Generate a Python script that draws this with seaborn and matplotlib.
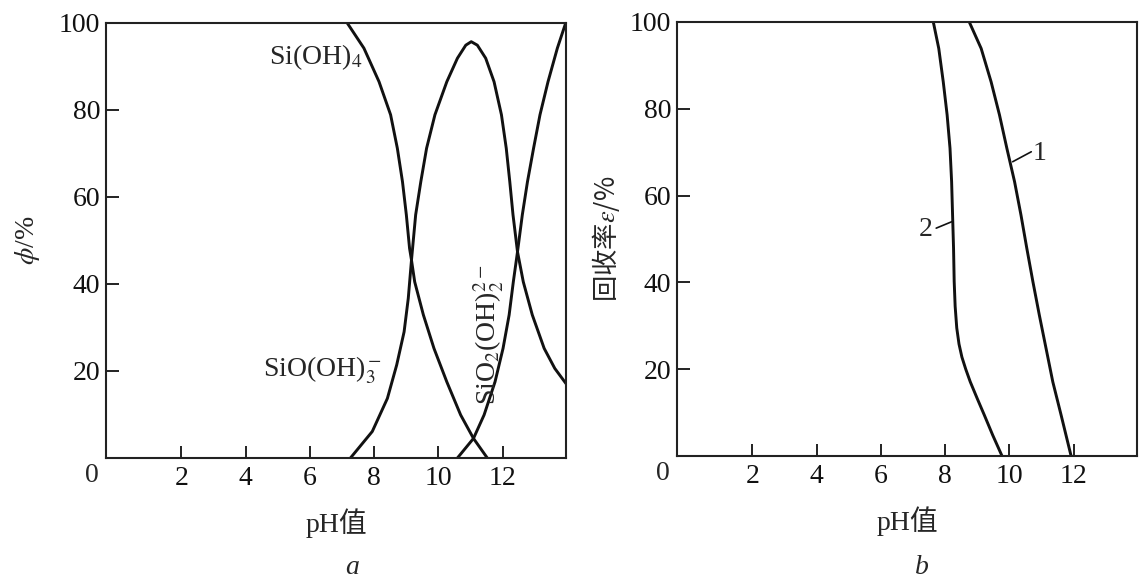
import matplotlib
matplotlib.use("Agg")
import matplotlib.pyplot as plt
import seaborn as sns

# --- panel a: species fraction vs pH ---
ph_sioh4 = [7.16, 7.68, 8.15, 8.51, 8.72, 8.88, 9.0, 9.10, 9.16, 9.26, 9.53, 9.86,
            10.26, 10.69, 11.09, 11.52]
phi_sioh4 = [100, 94.2, 86.5, 78.9, 71.2, 63.5, 55.9, 48.2, 45.5, 40.5, 32.9, 25.2,
             17.5, 9.9, 4.5, 0]

ph_sio_oh3 = [7.26, 7.94, 8.41, 8.70, 8.93, 9.06, 9.16, 9.29, 9.45, 9.63, 9.89, 10.26,
              10.59, 10.85, 11.02, 11.21, 11.47, 11.73, 11.96, 12.11, 12.22, 12.32,
              12.46, 12.64, 12.92, 13.29, 13.62, 14.0]
phi_sio_oh3 = [0, 6.1, 13.7, 21.4, 29, 36.7, 45.5, 55.9, 63.5, 71.2, 78.9, 86.5,
               91.9, 94.9, 95.7, 94.9, 91.9, 86.5, 78.9, 71.2, 63.5, 55.9,
               47.4, 40.5, 32.9, 25.2, 20.6, 16.8]

ph_sio2_oh2 = [10.59, 11.09, 11.42, 11.76, 12.01, 12.20, 12.33, 12.46, 12.61, 12.77,
               12.96, 13.16, 13.41, 13.70, 13.96]
phi_sio2_oh2 = [0, 4.5, 9.9, 17.5, 25.2, 32.9, 40.5, 47.4, 55.9, 63.5,
                71.2, 78.9, 86.5, 94.2, 100]

# --- panel b: recovery vs pH ---
ph_curve1 = [8.75, 9.12, 9.43, 9.69, 9.92, 10.16, 10.36, 10.54, 10.73, 10.93, 11.14,
             11.35, 11.61, 11.92]
rec_curve1 = [100, 93.9, 86.2, 78.6, 70.9, 63.2, 55.5, 47.9, 40.2, 32.5, 24.8,
              17.1, 9.4, 0]

ph_curve2 = [7.63, 7.80, 7.94, 8.06, 8.15, 8.20, 8.23, 8.26, 8.28, 8.31, 8.36, 8.43,
             8.52, 8.64, 8.78, 9.0, 9.22, 9.48, 9.77]
rec_curve2 = [100, 93.9, 86.2, 78.6, 70.9, 63.2, 55.5, 47.9, 40.2, 34.5, 29.5, 25.8,
              22.8, 20.0, 17.1, 13.2, 9.4, 4.8, 0]

xticks = [2, 4, 6, 8, 10, 12]
yticks = [20, 40, 60, 80, 100]

sns.set_style("ticks")
plt.rcParams["font.family"] = ["Liberation Serif", "Noto Sans CJK SC"]
plt.rcParams["mathtext.fontset"] = "stix"

FS = 20
LW = 2.1
cjk = ["Liberation Serif", "Noto Sans CJK SC"]
ink = "#111111"

fig = plt.figure(figsize=(11.43, 5.85), dpi=100)
ax1 = fig.add_axes([0.0927, 0.2171, 0.4025, 0.7436])
ax2 = fig.add_axes([0.5923, 0.2205, 0.4024, 0.7419])

for ax in (ax1, ax2):
    ax.set_xlim(-0.35, 13.97)
    ax.set_ylim(0, 100)
    ax.set_xticks(xticks)
    ax.set_yticks(yticks)
    ax.tick_params(direction="in", length=9, width=1.3, labelsize=FS, colors=ink)
    ax.tick_params(axis="x", pad=6)
    ax.tick_params(axis="y", pad=4)
    for s in ax.spines.values():
        s.set_linewidth(1.5)
        s.set_color("#222222")
    ax.text(-0.015, -0.012, "0", transform=ax.transAxes, ha="right", va="top", fontsize=FS)

# panel a curves
for xs, ys in [(ph_sioh4, phi_sioh4), (ph_sio_oh3, phi_sio_oh3), (ph_sio2_oh2, phi_sio2_oh2)]:
    sns.lineplot(x=xs, y=ys, ax=ax1, sort=False, estimator=None, color=ink, linewidth=LW)

ax1.text(4.71, 92.2, "Si(OH)$_4$", ha="left", va="center", fontsize=FS)
ax1.text(4.55, 20.2, "SiO(OH)$_3^-$", ha="left", va="center", fontsize=FS)
ax1.text(11.56, 28.3, "SiO$_2$(OH)$_2^{2-}$", ha="center", va="center", rotation=90, fontsize=FS)

ax1.set_xlabel("pH值", fontsize=FS, family=cjk, labelpad=12)
ax1.set_ylabel("$\\phi$/%", fontsize=FS, labelpad=12)

# panel b curves
sns.lineplot(x=ph_curve1, y=rec_curve1, ax=ax2, sort=False, estimator=None, color=ink, linewidth=LW)
sns.lineplot(x=ph_curve2, y=rec_curve2, ax=ax2, sort=False, estimator=None, color=ink, linewidth=LW)

ax2.plot([10.10, 10.68], [67.8, 70.1], color=ink, linewidth=1.2)
ax2.text(10.72, 69.8, "1", ha="left", va="center", fontsize=FS)
ax2.plot([7.72, 8.21], [52.5, 54.0], color=ink, linewidth=1.2)
ax2.text(7.62, 52.3, "2", ha="right", va="center", fontsize=FS)

ax2.set_xlabel("pH值", fontsize=FS, family=cjk, labelpad=12)
ax2.set_ylabel("回收率$\\varepsilon$/%", fontsize=FS - 1, family="Noto Sans CJK SC", labelpad=6)

fig.text(352 / 1143, 1 - 568 / 585, "a", style="italic", fontsize=FS, ha="center", va="center",
         family="Liberation Serif")
fig.text(922 / 1143, 1 - 568 / 585, "b", style="italic", fontsize=FS, ha="center", va="center",
         family="Liberation Serif")

fig.savefig("out.png", dpi=100, facecolor="white")
